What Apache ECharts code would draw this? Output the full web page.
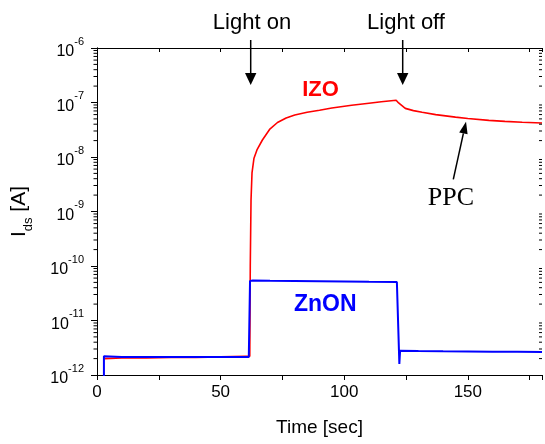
<!DOCTYPE html>
<html>
<head>
<meta charset="utf-8">
<script src="https://cdn.jsdelivr.net/npm/echarts@6/dist/echarts.min.js"></script>
<style>
html,body{margin:0;padding:0;background:#fff;}
#c{width:545px;height:444px;}
</style>
</head>
<body>
<div id="c"></div>
<script>
// ---- data ----
const izoTime = [3, 10, 20, 30, 40, 50, 60, 61.8, 62.0, 62.3, 62.7, 63.5, 64.7, 66.9, 69.8, 73, 76.5, 80, 85, 90, 95, 103, 110, 115, 121, 122, 124.7, 128, 131.5, 137, 145, 150, 158.5, 165, 172, 180];
const izoValue = [2.0e-12, 2.05e-12, 2.05e-12, 2.1e-12, 2.1e-12, 2.15e-12, 2.2e-12, 2.2e-12, 1.0e-10, 1.6e-9, 5.1e-9, 9.5e-9, 1.35e-8, 2.05e-8, 3.2e-8, 4.3e-8, 5.2e-8, 5.9e-8, 6.6e-8, 7.2e-8, 7.9e-8, 8.9e-8, 9.7e-8, 1.03e-7, 1.1e-7, 9.8e-8, 7.8e-8, 7.1e-8, 6.6e-8, 6.0e-8, 5.4e-8, 5.1e-8, 4.7e-8, 4.5e-8, 4.35e-8, 4.2e-8];

const znonTime = [2.8, 2.8, 10, 20, 30, 40, 50, 61.4, 61.9, 62.3, 63, 70, 80, 90, 100, 110, 121.3, 122.3, 122.6, 130, 140, 150, 160, 170, 180];
const znonValue = [5e-13, 2.2e-12, 2.15e-12, 2.15e-12, 2.15e-12, 2.15e-12, 2.15e-12, 2.15e-12, 5.3e-11, 5.6e-11, 5.4e-11, 5.35e-11, 5.3e-11, 5.25e-11, 5.2e-11, 5.15e-11, 5.1e-11, 1.6e-12, 2.8e-12, 2.75e-12, 2.72e-12, 2.7e-12, 2.68e-12, 2.66e-12, 2.65e-12];

const yMin = 1e-12, yMax = 1e-6;
const xMin = 0, xMax = 180;
const xLabelValues = [0, 50, 100, 150];

// minor tick positions of the log axis (axis decoration)
const minorTicks = [];
for (let e = -12; e < -6; e++) for (let m = 2; m <= 9; m++) minorTicks.push([0, m * Math.pow(10, e)]);

const SANS = 'Liberation Sans, Arial, sans-serif';
const SERIF = 'Liberation Serif, Times New Roman, serif';

const chart = echarts.init(document.getElementById('c'), null, {renderer: 'canvas'});
const black = '#000';

function pair(t, v) { return t.map((x, i) => [x, v[i]]); }

chart.setOption({
  animation: false,
  backgroundColor: '#fff',
  grid: {left: 97, right: 2, top: 48, bottom: 69, containLabel: false},
  xAxis: [{
    type: 'value', min: xMin, max: xMax, interval: 25, position: 'bottom',
    axisLine: {show: true, lineStyle: {color: black, width: 1}},
    axisTick: {show: true, inside: false, length: 5, lineStyle: {color: black}},
    axisLabel: {show: true, color: black, fontSize: 17, fontFamily: SANS, margin: 9,
      formatter: v => xLabelValues.indexOf(v) >= 0 ? String(v) : ''},
    splitLine: {show: false},
    name: 'Time [sec]', nameLocation: 'middle', nameGap: 43,
    nameTextStyle: {color: black, fontSize: 19, fontFamily: SANS}
  }, {
    type: 'value', min: xMin, max: xMax, interval: 25, position: 'top',
    axisLine: {show: true, lineStyle: {color: black, width: 1}},
    axisTick: {show: true, inside: true, length: 4, lineStyle: {color: black}},
    axisLabel: {show: false}, splitLine: {show: false}
  }],
  yAxis: [{
    type: 'log', logBase: 10, min: yMin, max: yMax, position: 'left',
    axisLine: {show: true, lineStyle: {color: black, width: 1}},
    axisTick: {show: true, inside: false, length: 6, lineStyle: {color: black}},
    axisLabel: {show: true, color: black, margin: 13, fontFamily: SANS,
      formatter: v => '{b|10}{s|' + Math.round(Math.log10(v)) + '}',
      rich: {
        b: {fontSize: 16, fontFamily: SANS, color: black, lineHeight: 24, verticalAlign: 'bottom'},
        s: {fontSize: 11, fontFamily: SANS, color: black, lineHeight: 12, verticalAlign: 'top'}
      }},
    splitLine: {show: false},
    name: '{a|I}{b|ds}{a| [A]}', nameLocation: 'middle', nameGap: 62,
    nameTextStyle: {color: black, fontFamily: SANS,
      rich: {
        a: {fontSize: 21, fontFamily: SANS, color: black, lineHeight: 26, verticalAlign: 'top'},
        b: {fontSize: 13, fontFamily: SANS, color: black, lineHeight: 13, verticalAlign: 'bottom'}
      }}
  }, {
    type: 'log', logBase: 10, min: yMin, max: yMax, position: 'right',
    axisLine: {show: true, lineStyle: {color: black, width: 1}},
    axisTick: {show: true, inside: true, length: 5, lineStyle: {color: black}},
    axisLabel: {show: false}, splitLine: {show: false}
  }],
  series: [{
    name: 'IZO', type: 'line', data: pair(izoTime, izoValue),
    showSymbol: false, symbol: 'none', smooth: false, clip: true,
    lineStyle: {color: '#ff0000', width: 1.6}, z: 2
  }, {
    name: 'ZnON', type: 'line', data: pair(znonTime, znonValue),
    showSymbol: false, symbol: 'none', smooth: false, clip: true,
    lineStyle: {color: '#0000ff', width: 2}, z: 3
  }, {
    type: 'custom', data: minorTicks, clip: false, silent: true, z: 5,
    renderItem: function (params, api) {
      const v = api.value(1);
      const pl = api.coord([xMin, v]);
      const pr = api.coord([xMax, v]);
      return {type: 'group', children: [
        {type: 'line', shape: {x1: pl[0] - 3.5, y1: pl[1], x2: pl[0], y2: pl[1]}, style: {stroke: black, lineWidth: 1}},
        {type: 'line', shape: {x1: pr[0] - 3, y1: pr[1], x2: pr[0], y2: pr[1]}, style: {stroke: black, lineWidth: 1}}
      ]};
    }
  }],
  graphic: [
    {type: 'text', left: null, x: 252, y: 23, style: {text: 'Light on', fill: black, font: '22px ' + SANS, textAlign: 'center', textVerticalAlign: 'middle'}},
    {type: 'text', x: 406, y: 23, style: {text: 'Light off', fill: black, font: '22px ' + SANS, textAlign: 'center', textVerticalAlign: 'middle'}},
    {type: 'line', shape: {x1: 250.7, y1: 40, x2: 250.7, y2: 76}, style: {stroke: black, lineWidth: 1.5}},
    {type: 'polygon', shape: {points: [[245, 73], [256.4, 73], [250.7, 85]]}, style: {fill: black}},
    {type: 'line', shape: {x1: 402.7, y1: 40, x2: 402.7, y2: 76}, style: {stroke: black, lineWidth: 1.5}},
    {type: 'polygon', shape: {points: [[397, 73], [408.4, 73], [402.7, 85]]}, style: {fill: black}},
    {type: 'text', x: 320.5, y: 89.5, style: {text: 'IZO', fill: '#ff0000', font: 'bold 22px ' + SANS, textAlign: 'center', textVerticalAlign: 'middle'}},
    {type: 'text', x: 325.3, y: 305, style: {text: 'ZnON', fill: '#0000ff', font: 'bold 23px ' + SANS, textAlign: 'center', textVerticalAlign: 'middle'}},
    {type: 'text', x: 451, y: 198, style: {text: 'PPC', fill: black, font: '26px ' + SERIF, textAlign: 'center', textVerticalAlign: 'middle'}},
    {type: 'line', shape: {x1: 453.3, y1: 179.3, x2: 463.4, y2: 133.4}, style: {stroke: black, lineWidth: 1.5}},
    {type: 'polygon', shape: {points: [[467.6, 134.3], [459.2, 132.5], [466, 121.7]]}, style: {fill: black}}
  ]
});
</script>
</body>
</html>
